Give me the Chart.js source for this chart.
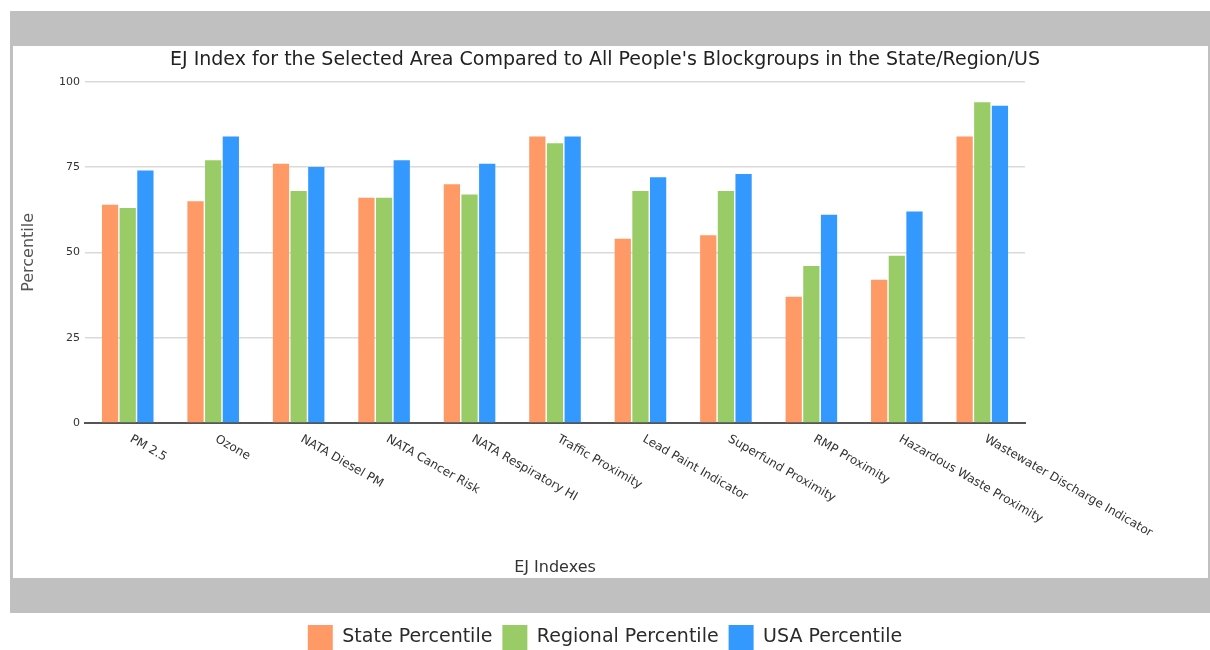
<!DOCTYPE html>
<html>
<head>
<meta charset="utf-8">
<title>EJ Index</title>
<script src="https://cdn.jsdelivr.net/npm/chart.js@4.4.0/dist/chart.umd.min.js"></script>
<style>
  html, body { margin: 0; padding: 0; background: #fff; overflow: hidden; }
  #wrap { width: 1210px; height: 650px; overflow: hidden; }
</style>
</head>
<body>
<div id="wrap"><canvas id="ejChart" width="1210" height="660"></canvas></div>
<script>
var categories = [
  'PM 2.5', 'Ozone', 'NATA Diesel PM', 'NATA Cancer Risk', 'NATA Respiratory HI',
  'Traffic Proximity', 'Lead Paint Indicator', 'Superfund Proximity', 'RMP Proximity',
  'Hazardous Waste Proximity', 'Wastewater Discharge Indicator'
];
var statePercentile = [64, 65, 76, 66, 70, 84, 54, 55, 37, 42, 84];
var regionalPercentile = [63, 77, 68, 66, 67, 82, 68, 68, 46, 49, 94];
var usaPercentile = [74, 84, 75, 77, 76, 84, 72, 73, 61, 62, 93];
var yTicks = [0, 25, 50, 75, 100];

Chart.defaults.font.family = '"DejaVu Sans", Verdana, sans-serif';

// grey box behind the chart (top and bottom bands)
var framePlugin = {
  id: 'frame',
  beforeDraw: function (chart) {
    var ctx = chart.ctx;
    ctx.save();
    ctx.fillStyle = '#c0c0c0';
    ctx.fillRect(10, 11, 1200, 602);
    ctx.fillStyle = '#ffffff';
    ctx.fillRect(13, 46, 1195, 532);
    ctx.restore();
  }
};

// category labels slant down to the right, starting at the tick
var slantedLabels = {
  id: 'slantedLabels',
  afterDraw: function (chart) {
    var xs = chart.scales.x;
    var ctx = chart.ctx;
    ctx.save();
    ctx.font = '12px "DejaVu Sans"';
    ctx.fillStyle = '#333';
    ctx.textAlign = 'left';
    ctx.textBaseline = 'top';
    for (var i = 0; i < categories.length; i++) {
      ctx.save();
      ctx.translate(xs.getPixelForTick(i) + 6, xs.top + 10);
      ctx.rotate(Math.PI / 6);
      ctx.fillText(categories[i], 0, 0);
      ctx.restore();
    }
    ctx.restore();
  }
};

new Chart(document.getElementById('ejChart'), {
  type: 'bar',
  data: {
    labels: categories,
    datasets: [
      { label: 'State Percentile', data: statePercentile, backgroundColor: '#ff9966' },
      { label: 'Regional Percentile', data: regionalPercentile, backgroundColor: '#99cc66' },
      { label: 'USA Percentile', data: usaPercentile, backgroundColor: '#3399ff' }
    ]
  },
  options: {
    responsive: false,
    animation: false,
    devicePixelRatio: 1,
    datasets: { bar: { categoryPercentage: 0.62, barPercentage: 0.92 } },
    layout: { padding: { top: 46, left: 0, right: 0, bottom: 0 } },
    plugins: {
      title: {
        display: true,
        text: "EJ Index for the Selected Area Compared to All People's Blockgroups in the State/Region/US",
        font: { size: 19, weight: 'normal' },
        color: '#222',
        padding: { top: 3, bottom: 10 }
      },
      legend: {
        position: 'bottom',
        labels: { boxWidth: 25, boxHeight: 25, padding: 10, font: { size: 19 }, color: '#2a2a2a' }
      },
      tooltip: { enabled: false }
    },
    scales: {
      x: {
        grid: { display: false },
        border: { color: '#555', width: 2 },
        ticks: { display: false },
        title: { display: true, text: 'EJ Indexes', font: { size: 16 }, color: '#333', padding: { top: 0, bottom: 38 } },
        afterFit: function (s) { s.height = 192; }
      },
      y: {
        min: yTicks[0],
        max: yTicks[yTicks.length - 1],
        ticks: { stepSize: yTicks[1] - yTicks[0], font: { size: 11 }, color: '#333', padding: 5 },
        grid: { color: '#dadada', lineWidth: 1.5, drawTicks: false },
        border: { display: false },
        title: { display: true, text: 'Percentile', font: { size: 16 }, color: '#555', padding: { top: 19, bottom: 0 } },
        afterFit: function (s) { s.width = 85; }
      },
      // empty axis that keeps the plot narrower than the white panel
      spacer: {
        position: 'right',
        ticks: { display: false },
        grid: { display: false },
        border: { display: false },
        afterFit: function (s) { s.width = 185; }
      }
    }
  },
  plugins: [framePlugin, slantedLabels]
});
</script>
</body>
</html>
